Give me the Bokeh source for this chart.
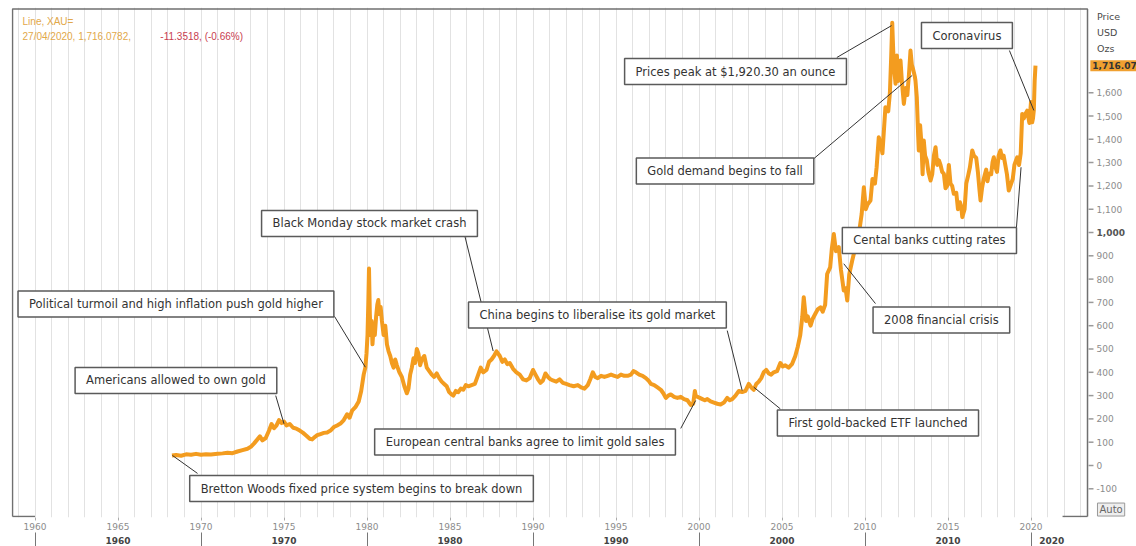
from bokeh.plotting import figure
from bokeh.models import Range1d, LinearAxis, FixedTicker, Label, ColumnDataSource
from bokeh.core.properties import value
from bokeh.embed import file_html
from bokeh.resources import INLINE

# ---- data: gold price (USD / oz) ----
years = [1968.25, 1968.5, 1968.8, 1969.1, 1969.4, 1969.7, 1970.0, 1970.3, 1970.6, 1971.0,
         1971.3, 1971.6, 1971.9, 1972.2, 1972.5, 1972.8, 1973.0, 1973.2, 1973.4, 1973.55,
         1973.7, 1973.9, 1974.1, 1974.25, 1974.4, 1974.55, 1974.7, 1974.85, 1975.0, 1975.15,
         1975.35, 1975.55, 1975.75, 1975.95, 1976.15, 1976.35, 1976.55, 1976.7, 1976.85, 1977.0,
         1977.2, 1977.4, 1977.6, 1977.8, 1978.0, 1978.2, 1978.4, 1978.6, 1978.8, 1978.95,
         1979.1, 1979.3, 1979.5, 1979.65, 1979.8, 1979.9, 1979.97, 1980.03, 1980.08, 1980.12,
         1980.17, 1980.22, 1980.28, 1980.33, 1980.4, 1980.47, 1980.55, 1980.62, 1980.68, 1980.75,
         1980.82, 1980.9, 1981.0, 1981.1, 1981.2, 1981.3, 1981.4, 1981.5, 1981.6, 1981.7,
         1981.8, 1981.95, 1982.1, 1982.25, 1982.4, 1982.5, 1982.6, 1982.7, 1982.8, 1982.9,
         1983.0, 1983.1, 1983.2, 1983.3, 1983.45, 1983.6, 1983.75, 1983.9, 1984.05, 1984.2,
         1984.35, 1984.5, 1984.65, 1984.8, 1984.95, 1985.1, 1985.2, 1985.35, 1985.5, 1985.65,
         1985.8, 1985.95, 1986.1, 1986.3, 1986.5, 1986.7, 1986.85, 1987.0, 1987.2, 1987.35,
         1987.5, 1987.65, 1987.8, 1987.9, 1988.0, 1988.15, 1988.3, 1988.45, 1988.6, 1988.8,
         1989.0, 1989.2, 1989.4, 1989.6, 1989.8, 1990.0, 1990.15, 1990.3, 1990.45, 1990.6,
         1990.75, 1990.9, 1991.05, 1991.2, 1991.4, 1991.6, 1991.8, 1992.0, 1992.2, 1992.45,
         1992.7, 1992.9, 1993.1, 1993.3, 1993.45, 1993.6, 1993.75, 1993.9, 1994.1, 1994.3,
         1994.5, 1994.7, 1994.9, 1995.1, 1995.3, 1995.5, 1995.7, 1995.9, 1996.05, 1996.2,
         1996.4, 1996.6, 1996.8, 1996.95, 1997.1, 1997.3, 1997.5, 1997.7, 1997.85, 1998.0,
         1998.15, 1998.3, 1998.5, 1998.7, 1998.9, 1999.1, 1999.3, 1999.5, 1999.65, 1999.75,
         1999.8, 1999.9, 2000.05, 2000.2, 2000.35, 2000.5, 2000.7, 2000.9, 2001.1, 2001.3,
         2001.5, 2001.7, 2001.85, 2002.0, 2002.2, 2002.4, 2002.6, 2002.8, 2003.0, 2003.15,
         2003.3, 2003.45, 2003.6, 2003.75, 2003.9, 2004.05, 2004.2, 2004.35, 2004.5, 2004.7,
         2004.9, 2005.05, 2005.2, 2005.4, 2005.6, 2005.8, 2005.95, 2006.1, 2006.22, 2006.31,
         2006.45, 2006.55, 2006.72, 2006.85, 2007.0, 2007.15, 2007.32, 2007.45, 2007.6, 2007.72,
         2007.9, 2008.0, 2008.12, 2008.25, 2008.42, 2008.55, 2008.72, 2008.83, 2008.93, 2009.05,
         2009.23, 2009.4, 2009.5, 2009.63, 2009.8, 2009.93, 2010.05, 2010.15, 2010.33, 2010.45,
         2010.6, 2010.7, 2010.83, 2010.95, 2011.05, 2011.23, 2011.4, 2011.5, 2011.58, 2011.64,
         2011.7, 2011.76, 2011.84, 2011.92, 2012.0, 2012.07, 2012.14, 2012.22, 2012.34, 2012.45,
         2012.55, 2012.65, 2012.74, 2012.82, 2012.9, 2013.0, 2013.04, 2013.12, 2013.2, 2013.24,
         2013.32, 2013.4, 2013.47, 2013.54, 2013.62, 2013.72, 2013.82, 2013.95, 2014.05, 2014.15,
         2014.25, 2014.35, 2014.45, 2014.55, 2014.65, 2014.75, 2014.85, 2014.95, 2015.05, 2015.15,
         2015.25, 2015.35, 2015.5, 2015.6, 2015.72, 2015.8, 2015.86, 2016.0, 2016.1, 2016.2,
         2016.32, 2016.46, 2016.56, 2016.7, 2016.8, 2016.9, 2016.96, 2017.05, 2017.15, 2017.3,
         2017.38, 2017.46, 2017.6, 2017.68, 2017.76, 2017.86, 2017.95, 2018.05, 2018.16, 2018.25,
         2018.35, 2018.45, 2018.55, 2018.66, 2018.76, 2018.9, 2019.0, 2019.1, 2019.17, 2019.28,
         2019.38, 2019.47, 2019.57, 2019.67, 2019.77, 2019.9, 2020.0, 2020.07, 2020.12, 2020.17,
         2020.22, 2020.27]
prices = [43, 45, 42, 48, 46, 50, 46, 48, 47, 50,
          52, 55, 53, 60, 66, 72, 80, 95, 112, 125,
          108, 118, 150, 178, 160, 172, 195, 182, 188, 172,
          178, 162, 158, 150, 140, 128, 115, 112, 122, 130,
          135, 140, 142, 150, 165, 172, 180, 195, 220, 205,
          235, 250, 275, 320, 390, 420, 480, 560, 700, 845,
          650, 560, 620, 520, 600, 560, 640, 690, 710, 650,
          680, 620, 560, 600, 520, 490, 470, 440, 420, 455,
          430, 400, 380, 340, 310, 330, 390, 420, 460, 440,
          500, 480, 430, 455, 470, 420, 405, 390, 380, 395,
          375, 360, 350, 340, 315, 305, 300, 320, 315, 330,
          325, 345, 340, 345, 350, 390, 420, 400, 410, 445,
          455, 470, 490, 480, 470, 445, 455, 435, 440, 415,
          400, 390, 370, 365, 375, 410, 390, 370, 355, 365,
          395, 380, 370, 365, 360, 370, 355, 350, 345, 340,
          345, 335, 330, 345, 370, 400, 380, 375, 385, 380,
          385, 390, 385, 380, 390, 385, 385, 390, 405, 400,
          390, 385, 375, 365, 350, 345, 335, 325, 310, 290,
          300, 305, 295, 290, 295, 285, 280, 260, 265, 320,
          300, 295, 290, 285, 280, 285, 275, 270, 265, 262,
          270, 290, 280, 285, 300, 320, 315, 320, 350, 335,
          325, 350, 360, 375, 400, 410, 395, 390, 400, 405,
          440, 425, 430, 420, 435, 470, 510, 560, 637, 722,
          620, 640, 600, 630, 650, 670, 679, 660, 690, 822,
          850, 930, 994, 920, 937, 840, 751, 760, 708, 820,
          880, 930, 920, 994, 1080, 1194, 1100, 1120, 1137, 1230,
          1210, 1280, 1409, 1380, 1340, 1538, 1520, 1600, 1760, 1900,
          1780, 1700, 1638, 1760, 1650, 1700, 1738, 1650, 1552, 1620,
          1590, 1680, 1781, 1720, 1700, 1670, 1652, 1580, 1420, 1352,
          1460, 1380, 1250, 1395, 1330, 1310, 1260, 1223, 1250, 1330,
          1366, 1290, 1310, 1290, 1260, 1252, 1190, 1200, 1290, 1210,
          1200, 1166, 1170, 1100, 1130, 1110, 1066, 1100, 1210, 1240,
          1280, 1352, 1330, 1320, 1260, 1180, 1137, 1190, 1230, 1270,
          1220, 1252, 1250, 1300, 1323, 1280, 1260, 1330, 1352, 1320,
          1330, 1290, 1250, 1180, 1200, 1230, 1290, 1310, 1323, 1290,
          1340, 1509, 1490, 1510, 1523, 1470, 1560, 1473, 1490, 1524,
          1650, 1716]

# tick labels
five_year_ticks = list(range(1960, 2021, 5))
decade_labels = ["1960", "1970", "1980", "1990", "2000", "2010", "2020"]
decade_label_pos = [1965, 1975, 1985, 1995, 2005, 2015, 2021.25]
decade_bounds = [1960, 1970, 1980, 1990, 2000, 2010, 2020]
price_ticks = list(range(-100, 1700, 100))
price_labels = [f"{t:,}" for t in price_ticks]

# annotations: text, box centre (year, price), leader line start and end
notes = ["Political turmoil and high inflation push gold higher",
         "Americans allowed to own gold",
         "Black Monday stock market crash",
         "China begins to liberalise its gold market",
         "First gold-backed ETF launched",
         "European central banks agree to limit gold sales",
         "Bretton Woods fixed price system begins to break down",
         "Prices peak at $1,920.30 an ounce",
         "Gold demand begins to fall",
         "Coronavirus",
         "Cental banks cutting rates",
         "2008 financial crisis"]
note_x = [1968.49, 1968.49, 1980.15, 1993.88, 2010.78, 1989.52, 1979.67, 2002.2, 2001.57, 2016.14, 2013.88, 2014.6]
note_y = [693, 365, 1039, 646, 182, 101, -99, 1691, 1264, 1845, 966, 624]
lead_x0 = [1978.04, 1974.5, 1985.9, 2001.7, 2004.9, 1998.9, 1969.79, 2008.3, 2006.9, 2018.7, 2019.1, 2010.63]
lead_y0 = [640, 300, 983, 579, 243, 159, -34, 1751, 1316, 1781, 1000, 695]
lead_x1 = [1979.9, 1975.0, 1987.6, 2002.6, 2003.3, 1999.8, 1968.28, 2011.6, 2012.84, 2020.17, 2019.4, 2008.72]
lead_y1 = [422, 179, 491, 322, 336, 279, 43, 1888, 1674, 1524, 1280, 866]

FONT = "DejaVu Sans"
LEGFONT = "Liberation Sans"

# plot window (years / USD); the right-hand price scale sits past the chart box
X0, X1 = 1958.645, 2023.404     # chart box left / right
YB, YT = -219, 1959.2           # chart box bottom / top

p = figure(width=1136, height=546, output_backend="svg", toolbar_location=None,
           x_range=Range1d(1958.584, 2026.355), y_range=Range1d(-223.2, 1965.7),
           x_axis_location="below", y_axis_location=None,
           min_border_left=11, min_border_right=0, min_border_top=7, min_border_bottom=29)
p.background_fill_color = "white"
p.border_fill_color = "white"
p.outline_line_color = None

p.ygrid.visible = False
p.xgrid.ticker = FixedTicker(ticks=list(range(1959, 2024)))
p.xgrid.grid_line_color = "#e2e2e2"
p.xgrid.grid_line_width = 1

xa = p.xaxis[0]
xa.ticker = FixedTicker(ticks=five_year_ticks, minor_ticks=[])
xa.axis_line_color = None
xa.major_tick_in = 0
xa.major_tick_out = 3
xa.major_tick_line_color = "#aaaaaa"
xa.major_label_standoff = 2
xa.major_label_text_font = FONT
xa.major_label_text_font_size = "9px"
xa.major_label_text_color = "#8c8c8c"

xa2 = LinearAxis(ticker=FixedTicker(ticks=decade_label_pos, minor_ticks=decade_bounds),
                 major_label_overrides={k: v for k, v in zip(decade_label_pos, decade_labels)})
xa2.axis_line_color = None
xa2.major_tick_line_color = None
xa2.major_tick_in = 0
xa2.major_tick_out = 0
xa2.minor_tick_in = 0
xa2.minor_tick_out = 14
xa2.minor_tick_line_color = "#777777"
xa2.major_label_standoff = -10
xa2.major_label_text_font = FONT
xa2.major_label_text_font_size = "9px"
xa2.major_label_text_font_style = "bold"
xa2.major_label_text_color = "#444444"
p.add_layout(xa2, "below")

# chart box (left, top, right) and bottom corner pieces
p.line([X0, X0, X1, X1], [YB, YT, YT, YB], line_color="#707070", line_width=1.5)
p.segment([X0, 2021.9], [YB, YB], [1960.0, X1], [YB, YB], line_color="#707070", line_width=1.5)

# price scale on the right
tick_src = ColumnDataSource(dict(
    y=price_ticks, label=price_labels,
    style=["bold" if t == 1000 else "normal" for t in price_ticks],
    color=["#555555" if t == 1000 else "#8c8c8c" for t in price_ticks]))
p.segment(x0=X1 + 0.06, y0="y", x1=X1 + 0.36, y1="y", source=tick_src,
          line_color="#9a9a9a", line_width=1.5)
p.text(x=X1 + 0.54, y="y", text="label", source=tick_src, text_font=value(FONT),
       text_font_size="9px", text_font_style="style", text_color="color",
       text_baseline="middle", text_align="left")

# gold price line
src = ColumnDataSource(dict(x=years, y=prices))
p.line("x", "y", source=src, line_color="#F39C1F", line_width=4, line_join="round")

p.segment(lead_x0, lead_y0, lead_x1, lead_y1, line_color="#333333", line_width=1)

for t, x, y in zip(notes, note_x, note_y):
    p.add_layout(Label(x=x, y=y, text=t, text_align="center", text_baseline="middle",
                       text_font=FONT, text_font_size="11.5px", text_color="#333333",
                       background_fill_color="white", border_line_color="#5a5a5a",
                       border_line_width=1.5,
                       padding=dict(left=11, right=11, top=6, bottom=6)))

# header legend
p.add_layout(Label(x=1959.25, y=1906, text="Line, XAU=", text_baseline="middle",
                   text_font=LEGFONT, text_font_size="10px", text_color="#E2A84A"))
p.add_layout(Label(x=1959.25, y=1841, text="27/04/2020, 1,716.0782,", text_baseline="middle",
                   text_font=LEGFONT, text_font_size="10px", text_color="#E2A84A"))
p.add_layout(Label(x=1967.55, y=1841, text="-11.3518, (-0.66%)", text_baseline="middle",
                   text_font=LEGFONT, text_font_size="10px", text_color="#C8404F"))

# price scale header, last value tag and auto box
for t, y in zip(["Price", "USD", "Ozs"], [1927, 1858, 1790]):
    p.add_layout(Label(x=X1 + 0.57, y=y, text=t, text_baseline="middle",
                       text_font=FONT, text_font_size="9.5px", text_color="#4a4a4a"))
p.add_layout(Label(x=X1 + 0.17, y=1716, text="1,716.07", text_baseline="middle",
                   text_font=FONT, text_font_size="9px", text_font_style="bold",
                   text_color="#333333", background_fill_color="#F0A030",
                   padding=dict(left=2, right=4, top=2, bottom=2)))
p.add_layout(Label(x=X1 + 0.6, y=-189, text="Auto", text_baseline="middle",
                   text_font=FONT, text_font_size="10px", text_color="#666666",
                   background_fill_color="#eeeeee", border_line_color="#999999",
                   padding=dict(left=2, right=2, top=1, bottom=1)))

open("out.html", "w").write(file_html(p, INLINE))
